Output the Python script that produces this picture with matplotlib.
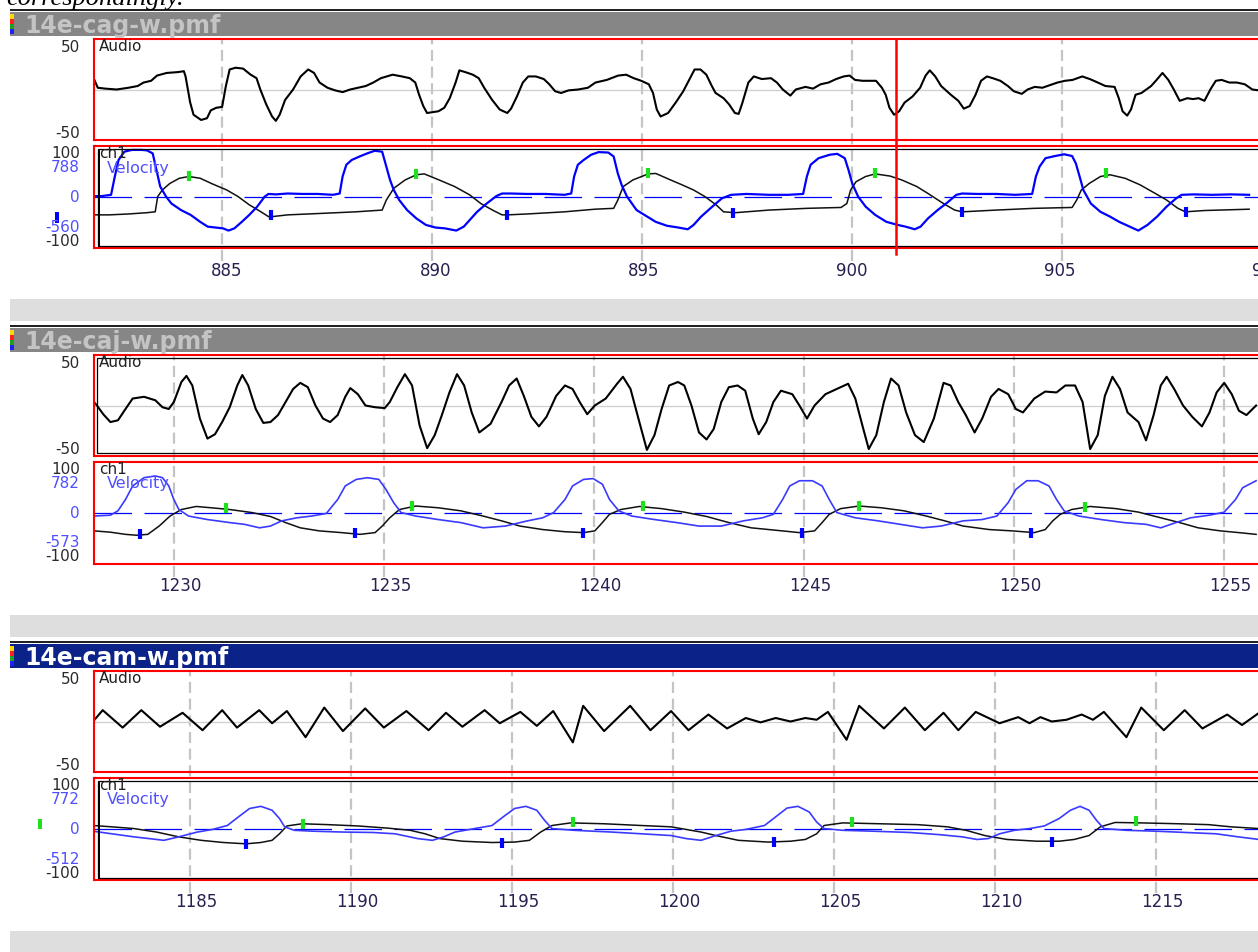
import matplotlib
matplotlib.use("Agg")
import matplotlib.pyplot as plt
from matplotlib.patches import Rectangle
from matplotlib.lines import Line2D
from matplotlib import transforms

# ---------------------------------------------------------------------------
# DATA
# ---------------------------------------------------------------------------
titles = ["14e-cag-w.pmf", "14e-caj-w.pmf", "14e-cam-w.pmf"]

# --- panel 1 : 14e-cag-w ---------------------------------------------------
p1_ticks = [885, 890, 895, 900, 905, 910]
p1_audio_t = [881.95, 882.04, 882.22, 882.49, 882.77, 882.99, 883.13, 883.31, 883.45, 883.68,
              883.95, 884.09, 884.13, 884.24, 884.32, 884.50, 884.64, 884.73, 884.86, 885.00,
              885.09, 885.18, 885.32, 885.50, 885.68, 885.82, 885.91, 886.05, 886.19, 886.28,
              886.37, 886.50, 886.69, 886.87, 887.05, 887.19, 887.32, 887.51, 887.69, 887.87,
              888.05, 888.24, 888.42, 888.60, 888.78, 889.06, 889.28, 889.47, 889.60, 889.69,
              889.79, 889.88, 890.01, 890.15, 890.29, 890.42, 890.56, 890.65, 890.79, 890.97,
              891.11, 891.24, 891.43, 891.61, 891.79, 891.88, 892.02, 892.16, 892.29, 892.47,
              892.66, 892.79, 892.93, 893.07, 893.25, 893.48, 893.71, 893.89, 894.16, 894.43,
              894.62, 894.80, 894.98, 895.16, 895.26, 895.35,
              895.44, 895.62, 895.80, 895.98, 896.12, 896.25, 896.39, 896.53, 896.66, 896.75,
              896.94, 897.07, 897.21, 897.30, 897.39, 897.53, 897.66, 897.85, 898.07, 898.21,
              898.35, 898.53, 898.66, 898.89, 899.07, 899.25, 899.44, 899.62, 899.80, 899.94,
              900.07, 900.25, 900.57, 900.71, 900.80, 900.89, 901.00, 901.12, 901.25, 901.44,
              901.62, 901.75, 901.85, 901.98, 902.12, 902.35, 902.53, 902.66, 902.80, 902.94,
              903.07, 903.21, 903.35, 903.53, 903.71, 903.85, 904.04, 904.18, 904.35, 904.53,
              904.71, 904.89, 905.07, 905.25, 905.48, 905.66, 905.85, 906.03, 906.25, 906.35,
              906.44, 906.55, 906.64, 906.75, 906.89, 907.12, 907.25, 907.39, 907.53, 907.66,
              907.80, 907.98, 908.12, 908.25, 908.39, 908.53, 908.66, 908.80, 908.98, 909.16,
              909.35, 909.53, 909.69]
p1_audio_v = [12, 2, 1, 0, 2, 4, 8, 10, 16, 19,
              20, 21, 15, -15, -29, -35, -33, -24, -21, -20,
              4, 23, 25, 24, 17, 13, 0, -17, -31, -36,
              -29, -12, 0, 15, 23, 19, 8, 2, -1, -3,
              0, 2, 4, 8, 13, 17, 15, 13, 8, -6,
              -19, -27, -26, -25, -21, -10, 8, 22, 20, 17,
              13, 2, -12, -23, -27, -22, -8, 8, 15, 15,
              12, 6, -2, -4, -1, 0, 2, 8, 11, 16,
              17, 13, 10, 6, -4, -23,
              -31, -27, -15, -2, 11, 23, 23, 17, 4, -4,
              -10, -17, -27, -28, -15, 8, 15, 12, 13, 8,
              0, -7, 0, 3, 1, 6, 8, 12, 15, 16,
              11, 10, 10, 2, -6, -21, -29, -25, -15, -8,
              2, 16, 22, 15, 4, -6, -13, -22, -19, -6,
              10, 15, 13, 10, 4, -2, -5, 0, 3, 2,
              5, 8, 10, 11, 15, 12, 8, 4, 3, -10,
              -25, -30, -23, -6, -4, 4, 11, 19, 11, 0,
              -13, -10, -11, -10, -13, 0, 10, 11, 8, 8,
              6, 0, -1]
p1_vel_t = [881.95, 882.13, 882.36, 882.45, 882.54, 882.68, 882.86, 883.09, 883.22, 883.36,
            883.45, 883.54, 883.68, 883.81, 884.04, 884.27, 884.50, 884.68, 884.86, 885.05,
            885.18, 885.32, 885.50, 885.68, 885.87, 886.05, 886.14, 886.32, 886.60, 886.96,
            887.32, 887.69, 887.85, 887.92, 888.01, 888.14, 888.33, 888.51, 888.69, 888.87,
            888.97, 889.06, 889.15, 889.28, 889.47, 889.69, 889.92, 890.15, 890.38, 890.65,
            890.83, 890.97, 891.15, 891.38, 891.61, 891.75, 891.97, 892.34, 892.79, 893.25,
            893.41, 893.48, 893.57, 893.71, 893.89, 894.07, 894.30, 894.43, 894.53, 894.62,
            894.75, 894.98,
            895.44, 895.71, 895.98, 896.21, 896.35, 896.53, 896.80, 897.03, 897.25, 897.62,
            898.16, 898.62, 898.98, 899.07, 899.16, 899.35, 899.62, 899.80, 899.98, 900.07,
            900.16, 900.30, 900.48, 900.71, 900.98, 901.25, 901.44, 901.66, 901.80, 901.98,
            902.21, 902.44, 902.66, 902.80, 903.16, 903.62, 904.07, 904.48, 904.57, 904.66,
            904.80, 905.03, 905.25, 905.44, 905.53, 905.62, 905.71, 905.89, 906.12, 906.35,
            906.57, 906.80, 907.03, 907.25, 907.48, 907.71, 907.94, 908.07, 908.35, 908.80,
            909.25, 909.69]
p1_vel_v = [2, 2, 5, 47, 85, 104, 108, 108, 107, 100,
            62, 24, 1, -15, -30, -41, -57, -68, -70, -72,
            -77, -72, -57, -41, -22, 1, 7, 6, 8, 7,
            7, 5, 8, 47, 74, 85, 93, 100, 106, 104,
            70, 39, 16, -7, -30, -49, -64, -70, -72, -77,
            -68, -53, -34, -15, 2, 8, 8, 7, 7, 5,
            8, 47, 74, 85, 97, 103, 102, 93, 54, 28,
            1, -30,
            -57, -66, -70, -74, -64, -45, -22, -3, 5, 7,
            5, 5, 7, 47, 74, 89, 97, 99, 89, 62,
            31, 1, -22, -41, -57, -64, -68, -74, -68, -49,
            -30, -13, 5, 8, 7, 7, 5, 7, 47, 70,
            89, 94, 98, 94, 77, 47, 16, -15, -34, -45,
            -57, -67, -77, -64, -45, -22, -3, 5, 6, 5,
            6, 5]
p1_pos_t = [881.95, 882.31, 882.77, 883.22, 883.42, 883.48, 883.59, 883.77, 884.00, 884.23,
            884.50, 884.77, 885.14, 885.41, 885.68, 885.96, 886.14, 886.23, 886.60, 887.32,
            888.24, 888.87, 888.97, 889.15, 889.42, 889.69, 889.88, 890.24, 890.61, 890.97,
            891.24, 891.52, 891.75, 891.88, 892.34, 893.25, 893.98, 894.43, 894.53, 894.66,
            894.89, 895.26,
            895.44, 895.80, 896.07, 896.35, 896.62, 896.89, 897.07, 897.35, 898.16, 899.07,
            899.89, 900.03, 900.12, 900.25, 900.48, 900.71, 901.07, 901.35, 901.71, 901.98,
            902.35, 902.62, 902.80, 903.62, 904.53, 905.44, 905.55, 905.66, 905.85, 906.12,
            906.35, 906.71, 907.07, 907.44, 907.71, 907.98, 908.16, 908.62, 909.69]
p1_pos_v = [-41, -41, -39, -36, -34, 1, 16, 31, 43, 47,
            43, 31, 16, 1, -18, -34, -45, -45, -41, -38,
            -34, -30, -7, 20, 39, 51, 53, 39, 24, 5,
            -15, -30, -41, -41, -39, -34, -28, -26, -7, 24,
            39, 53,
            54, 39, 28, 16, 1, -18, -34, -36, -30, -26,
            -24, -15, 16, 35, 47, 53, 48, 39, 24, 8,
            -15, -30, -34, -30, -26, -24, -7, 16, 31, 47,
            51, 43, 28, 8, -7, -26, -34, -31, -28]
p1_peak_t = [884.23, 889.69, 895.26, 900.71, 906.25]
p1_peak_v = [48, 53, 54, 56, 54]
p1_trough_t = [886.19, 891.86, 897.30, 902.80, 908.18]
p1_trough_v = [-41, -41, -36, -34, -34]
p1_cursor = 901.04
p1_scale = ["100", "788", "0", "-560", "-100"]

# --- panel 2 : 14e-caj-w ---------------------------------------------------
p2_ticks = [1230, 1235, 1240, 1245, 1250, 1255]
p2_audio_t = [1228.10, 1228.17, 1228.32, 1228.49, 1228.67, 1228.85, 1229.02, 1229.29, 1229.56, 1229.73,
              1229.88, 1230.00, 1230.18, 1230.30, 1230.44, 1230.62, 1230.80, 1230.98, 1231.15, 1231.33,
              1231.51, 1231.63, 1231.77, 1231.95, 1232.13, 1232.30, 1232.48, 1232.66, 1232.84, 1233.01,
              1233.19, 1233.37, 1233.55, 1233.72, 1233.90, 1234.08, 1234.20, 1234.38, 1234.56, 1234.79,
              1235.02, 1235.14, 1235.32, 1235.50, 1235.67, 1235.85, 1236.03, 1236.21, 1236.38, 1236.56,
              1236.74, 1236.91, 1237.09, 1237.27, 1237.54, 1237.80, 1237.98, 1238.16, 1238.33, 1238.51,
              1238.69, 1238.87, 1239.10, 1239.31, 1239.49, 1239.66, 1239.84, 1240.02, 1240.28, 1240.55,
              1240.69, 1240.87, 1241.08, 1241.26, 1241.44, 1241.61, 1241.79, 1242.00, 1242.15, 1242.32,
              1242.50, 1242.68, 1242.85, 1243.03, 1243.21, 1243.42, 1243.60, 1243.78, 1243.92, 1244.10,
              1244.27, 1244.45, 1244.72, 1244.89, 1245.07, 1245.25, 1245.51, 1245.78, 1246.05, 1246.22,
              1246.40, 1246.54, 1246.72, 1246.90, 1247.07, 1247.25, 1247.43, 1247.64, 1247.85, 1248.09,
              1248.32, 1248.49, 1248.67, 1248.85, 1249.06, 1249.24, 1249.45, 1249.63, 1249.86, 1250.04,
              1250.21, 1250.48, 1250.74, 1251.01, 1251.22, 1251.45, 1251.63, 1251.81, 1251.99, 1252.16,
              1252.34, 1252.52, 1252.70, 1252.96, 1253.14, 1253.32, 1253.49, 1253.63, 1253.81, 1254.02,
              1254.24, 1254.47, 1254.65, 1254.82, 1255.00, 1255.18, 1255.35, 1255.53, 1255.76]
p2_audio_v = [4, 0, -10, -19, -17, -4, 8, 10, 6, -2,
              -4, 4, 27, 34, 23, -15, -38, -33, -19, -2,
              23, 35, 23, -4, -20, -19, -11, 4, 19, 26,
              21, 0, -15, -19, -11, 10, 20, 13, 0, -2,
              -3, 4, 21, 36, 23, -23, -49, -34, -11, 15,
              36, 23, -8, -31, -21, 4, 23, 31, 11, -13,
              -24, -13, 11, 23, 19, 4, -10, 0, 8, 25,
              33, 19, -19, -51, -34, -4, 23, 27, 23, 0,
              -31, -39, -27, 4, 21, 23, 17, -15, -33, -19,
              4, 17, 13, 0, -15, 0, 13, 19, 25, 8,
              -25, -50, -34, 4, 31, 23, -8, -34, -42, -15,
              26, 23, 4, -11, -31, -15, 10, 19, 13, -4,
              -8, 8, 16, 15, 23, 23, 4, -50, -34, 11,
              33, 19, -8, -19, -40, -11, 23, 33, 19, 0,
              -13, -24, -8, 15, 26, 13, -6, -11, 0]
p2_vel_t = [1228.10, 1228.49, 1228.67, 1228.85, 1229.02, 1229.29, 1229.56, 1229.73, 1229.88, 1230.00,
            1230.12, 1230.35, 1230.80, 1231.33, 1231.68, 1232.04, 1232.30, 1232.57, 1232.93, 1233.28,
            1233.63, 1233.90, 1234.08, 1234.34, 1234.61, 1234.88, 1235.05, 1235.23, 1235.41, 1235.76,
            1236.29, 1236.83, 1237.36, 1237.89, 1238.42, 1238.78, 1239.04, 1239.31, 1239.49, 1239.75,
            1239.98, 1240.20, 1240.37, 1240.59, 1240.90, 1241.44, 1241.97, 1242.50, 1243.03, 1243.56,
            1244.01, 1244.27, 1244.49, 1244.66, 1244.89, 1245.20, 1245.43, 1245.60, 1245.78, 1246.22,
            1246.76, 1247.29, 1247.82, 1248.26, 1248.79, 1249.24, 1249.59, 1249.86, 1250.04, 1250.30,
            1250.57, 1250.83, 1251.01, 1251.19, 1251.54, 1252.07, 1252.61, 1253.14, 1253.49, 1253.85,
            1254.20, 1254.65, 1255.00, 1255.27, 1255.44, 1255.76]
p2_vel_v = [-7, -5, 5, 31, 62, 81, 85, 81, 62, 31,
            8, -7, -15, -22, -26, -34, -30, -18, -11, -7,
            -1, 31, 62, 77, 81, 77, 54, 24, 1, -7,
            -15, -22, -34, -30, -18, -11, 1, 31, 62, 77,
            79, 66, 31, 5, -7, -15, -22, -30, -30, -18,
            -11, -3, 31, 62, 74, 74, 62, 31, 1, -11,
            -18, -26, -34, -30, -18, -15, -7, 24, 54, 74,
            74, 62, 31, 5, -7, -15, -22, -26, -34, -22,
            -11, -5, 2, 31, 58, 74]
p2_pos_t = [1228.10, 1228.49, 1228.85, 1229.11, 1229.38, 1229.65, 1229.91, 1230.18, 1230.53, 1230.89,
            1231.33, 1231.86, 1232.30, 1232.66, 1233.01, 1233.46, 1233.99, 1234.43, 1234.79, 1234.96,
            1235.14, 1235.37, 1235.76, 1236.29, 1236.83, 1237.36, 1237.80, 1238.24, 1238.78, 1239.31,
            1239.75, 1240.02, 1240.20, 1240.37, 1240.64, 1241.08, 1241.61, 1242.15, 1242.68, 1243.21,
            1243.74, 1244.27, 1244.89, 1245.25, 1245.43, 1245.60, 1245.87, 1246.31, 1246.84, 1247.38,
            1247.91, 1248.35, 1248.79, 1249.41, 1249.95, 1250.48, 1250.74, 1250.92, 1251.10, 1251.37,
            1251.81, 1252.43, 1252.96, 1253.49, 1253.94, 1254.38, 1254.91, 1255.35, 1255.76]
p2_pos_v = [-41, -44, -49, -51, -49, -30, -7, 8, 15, 12,
            8, 1, -8, -22, -34, -41, -45, -49, -45, -30,
            -11, 8, 16, 12, 5, -7, -18, -30, -38, -43,
            -45, -41, -22, -3, 8, 15, 10, 2, -8, -22,
            -34, -39, -45, -41, -22, -3, 10, 16, 12, 5,
            -7, -18, -30, -38, -41, -45, -38, -18, -3, 8,
            15, 10, 2, -11, -22, -34, -41, -45, -49]
p2_peak_t = [1231.24, 1235.67, 1241.17, 1246.31, 1251.68]
p2_peak_v = [12, 16, 15, 16, 14]
p2_trough_t = [1229.20, 1234.31, 1239.75, 1244.95, 1250.39]
p2_trough_v = [-49, -47, -47, -47, -47]
p2_scale = ["100", "782", "0", "-573", "-100"]

# --- panel 3 : 14e-cam-w ---------------------------------------------------
p3_ticks = [1185, 1190, 1195, 1200, 1205, 1210, 1215]
p3_audio_t = [1181.99, 1182.29, 1182.91, 1183.49, 1184.07, 1184.77, 1185.39, 1186.00, 1186.46, 1187.15,
              1187.55, 1188.01, 1188.59, 1189.17, 1189.75, 1190.44, 1191.02, 1191.72, 1192.41, 1192.95,
              1193.46, 1194.15, 1194.62, 1195.26, 1195.77, 1196.28, 1196.89, 1197.21, 1197.86, 1198.67,
              1199.30, 1199.94, 1200.48, 1201.10, 1201.68, 1202.26, 1202.72, 1203.19, 1203.65, 1204.11,
              1204.46, 1204.81, 1205.39, 1205.78, 1206.55, 1207.20, 1207.82, 1208.40, 1208.86, 1209.40,
              1210.14, 1210.72, 1211.07, 1211.41, 1211.76, 1212.22, 1212.69, 1213.04, 1213.38, 1214.08,
              1214.54, 1215.24, 1215.89, 1216.44, 1217.21, 1217.67, 1218.20]
p3_audio_v = [0, 13, -7, 13, -6, 10, -10, 13, -7, 13,
              -2, 12, -18, 16, -11, 15, -7, 12, -10, 10,
              -6, 13, -2, 11, -5, 12, -24, 18, -11, 18,
              -10, 12, -10, 8, -8, 4, -1, 4, 0, 4,
              2, 11, -21, 18, -8, 16, -10, 10, -10, 11,
              -2, 5, -2, 5, 0, 2, 8, 2, 11, -18,
              16, -10, 13, -8, 8, -4, 10]
p3_vel_t = [1181.99, 1182.57, 1183.26, 1183.96, 1184.19, 1184.65, 1185.23, 1185.70, 1186.16, 1186.51,
            1186.85, 1187.20, 1187.55, 1187.78, 1187.94, 1188.24, 1188.82, 1189.75, 1190.68, 1191.37,
            1192.07, 1192.53, 1192.88, 1193.23, 1193.69, 1194.38, 1194.73, 1195.08, 1195.43, 1195.77,
            1196.01, 1196.24, 1196.93, 1198.09, 1199.02, 1199.94, 1200.41, 1200.87, 1201.33, 1201.80,
            1202.26, 1202.84, 1203.19, 1203.54, 1203.88, 1204.23, 1204.46, 1204.69, 1205.27, 1206.20,
            1207.36, 1208.28, 1208.98, 1209.44, 1209.79, 1210.14, 1210.60, 1211.07, 1211.53, 1211.99,
            1212.34, 1212.64, 1212.92, 1213.15, 1213.38, 1214.08, 1215.00, 1215.93, 1216.86, 1217.55,
            1218.20]
p3_vel_v = [-5, -11, -18, -24, -26, -18, -7, -1, 8, 28,
            47, 52, 43, 24, 5, -3, -5, -7, -8, -11,
            -22, -26, -18, -7, -1, 8, 28, 47, 52, 43,
            20, 1, -3, -7, -11, -15, -22, -26, -15, -5,
            -1, 8, 28, 48, 52, 39, 16, 1, -3, -5,
            -8, -13, -18, -24, -22, -11, -3, 1, 7, 24,
            43, 52, 43, 20, 1, -3, -5, -8, -11, -18,
            -24]
p3_pos_t = [1181.99, 1182.57, 1183.26, 1183.96, 1184.65, 1185.35, 1186.04, 1186.74, 1187.20, 1187.55,
            1187.78, 1188.01, 1188.48, 1189.29, 1190.21, 1191.14, 1191.84, 1192.30, 1192.76, 1193.46,
            1194.38, 1195.08, 1195.54, 1195.89, 1196.24, 1196.82, 1197.86, 1199.02, 1199.94, 1200.87,
            1201.33, 1202.03, 1202.96, 1203.65, 1204.11, 1204.46, 1204.69, 1205.27, 1206.43, 1207.59,
            1208.52, 1209.10, 1209.68, 1210.37, 1211.30, 1211.99, 1212.46, 1212.92, 1213.27, 1213.73,
            1214.54, 1215.70, 1216.63, 1217.32, 1218.20]
p3_pos_v = [8, 5, 1, -7, -18, -26, -31, -34, -31, -26,
            -11, 7, 12, 10, 7, 2, -3, -11, -22, -28,
            -31, -30, -26, -7, 8, 14, 12, 8, 5, -7,
            -15, -26, -30, -28, -24, -11, 8, 14, 12, 10,
            5, -3, -15, -24, -28, -28, -24, -15, 5, 15,
            14, 12, 10, 5, 1]
p3_peak_t = [1188.52, 1196.89, 1205.57, 1214.38]
p3_peak_v = [12, 15, 15, 18]
p3_trough_t = [1186.74, 1194.68, 1203.14, 1211.76]
p3_trough_v = [-34, -31, -30, -30]
p3_scale = ["100", "772", "0", "-512", "-100"]

# ---------------------------------------------------------------------------
# LAYOUT HELPERS (pixel coordinates, origin top-left)
# ---------------------------------------------------------------------------
W, H = 1258, 953
plt.rcParams["lines.scale_dashes"] = False
plt.rcParams["font.family"] = ["DejaVu Sans"]

fig = plt.figure(figsize=(W / 100, H / 100), dpi=100)
fig.patch.set_facecolor("white")

RED = "#ff0000"
BLUE = "#0000ff"
LBLUE = "#5050ff"
GREEN = "#1ee01e"
GRID = "#c4c4c4"


def px_rect(x0, y0, x1, y1):
    return [x0 / W, 1 - y1 / H, (x1 - x0) / W, (y1 - y0) / H]


def box(x0, y0, x1, y1, face, edge="none", lw=0):
    fig.patches.append(Rectangle((x0 / W, 1 - y1 / H), (x1 - x0) / W, (y1 - y0) / H,
                                 transform=fig.transFigure, facecolor=face,
                                 edgecolor=edge, linewidth=lw))


def ftext(x, y, s, **kw):
    fig.text(x / W, 1 - y / H, s, **kw)


def bare(ax, xlim, ylim, spine_color=RED):
    ax.set_facecolor("none")
    ax.set_xlim(*xlim)
    ax.set_ylim(*ylim)
    ax.set_xticks([])
    ax.set_yticks([])
    for s in ax.spines.values():
        s.set_color(spine_color)
        s.set_linewidth(1.5)


def draw_panel(o, title, bar, fg, xlim, ticks, audio, vel, pos, peaks, troughs,
               scale, inner, vel_lw, vel_color, cursor=None):
    # window chrome
    box(10, o + 10, W, o + 12, "#222222")
    box(10, o + 13, W, o + 37, bar)
    for i, c in enumerate(["#ffd800", "#ff2020", "#20a020", "#2020ff"]):
        box(10, o + 15 + i * 5, 14, o + 20 + i * 5, c)
    ftext(24, o + 25.5, title, fontsize=17, fontweight="bold", color=fg,
          va="center", ha="left")
    box(10, o + 300, W, o + 322, "#dedede")

    # background with the dashed time grid
    ax_bg = fig.add_axes(px_rect(94, o + 40, W + 4, o + 262))
    ax_bg.set_xlim(*xlim)
    ax_bg.set_ylim(0, 1)
    ax_bg.axis("off")
    for t in ticks:
        ax_bg.axvline(t, color=GRID, lw=1.6, linestyle=(0, (8, 4)))

    # audio strip
    ax_a = fig.add_axes(px_rect(94, o + 40, W + 4, o + 141))
    bare(ax_a, xlim, (-58, 58))
    ax_a.axhline(0, color="#cfcfcf", lw=0.9)
    ax_a.plot(audio[0], audio[1], color="black", lw=1.5)

    # velocity / position strip
    ax_v = fig.add_axes(px_rect(94, o + 147, W + 4, o + 249))
    bare(ax_v, xlim, (-117, 117))
    ax_v.axhline(0, color=BLUE, lw=0.9, linestyle=(0, (27, 9)))
    ax_v.plot(pos[0], pos[1], color="#111111", lw=1.1)
    ax_v.plot(vel[0], vel[1], color=vel_color, lw=vel_lw)
    ax_v.plot(peaks[0], peaks[1], linestyle="none", marker="|", ms=7, mew=3, color=GREEN)
    ax_v.plot(troughs[0], troughs[1], linestyle="none", marker="|", ms=7, mew=3, color=BLUE)
    ax_v.set_xticks(ticks)
    ax_v.set_xticklabels([str(t) for t in ticks])
    ax_v.tick_params(axis="x", length=0, pad=9, labelsize=12, labelcolor="#2a2050")
    shift = transforms.ScaledTranslation(6 / 100, 0, fig.dpi_scale_trans)
    for lab in ax_v.get_xticklabels():
        lab.set_transform(lab.get_transform() + shift)

    # inner black frames
    if "audio" in inner:
        box(97, o + 43, W + 4, o + 138, "none", edge="black", lw=0.9)
    if "vel" in inner:
        box(98, o + 150, W + 4, o + 247, "none", edge="black", lw=0.9)
        box(98, o + 150, 100, o + 247, "black")

    # labels inside strips
    ftext(99, o + 46.5, "Audio", fontsize=11, color="#222222", va="center")
    ftext(99, o + 154, "ch1", fontsize=11, color="#222222", va="center")
    ftext(107, o + 168, "Velocity", fontsize=11.5, color=LBLUE, va="center")

    # scale labels in the left column
    ftext(80, o + 47, "50", fontsize=11, color="#2a2a2a", ha="right", va="center")
    ftext(80, o + 134, "-50", fontsize=11, color="#2a2a2a", ha="right", va="center")
    ys = [154, 168, 198, 227, 241]
    cols = ["#2a2a2a", LBLUE, LBLUE, LBLUE, "#2a2a2a"]
    for s, y, c in zip(scale, ys, cols):
        ftext(80, o + y, s, fontsize=11, color=c, ha="right", va="center")

    if cursor is not None:
        tr = transforms.blended_transform_factory(ax_a.transData, fig.transFigure)
        fig.add_artist(Line2D([cursor, cursor], [1 - (o + 40) / H, 1 - (o + 255) / H],
                              transform=tr, color=RED, lw=1.8, zorder=5))
    return ax_a, ax_v


# ---------------------------------------------------------------------------
# DRAW
# ---------------------------------------------------------------------------
fig.text(6 / W, 1 - 5 / H, "correspondingly.", fontsize=19, style="italic",
         family=["Liberation Serif", "DejaVu Serif"], va="baseline")

draw_panel(0, titles[0], "#868686", "#c4c4c4", (881.95, 909.76), p1_ticks,
           (p1_audio_t, p1_audio_v), (p1_vel_t, p1_vel_v), (p1_pos_t, p1_pos_v),
           (p1_peak_t, p1_peak_v), (p1_trough_t, p1_trough_v),
           p1_scale, ["vel"], 1.6, BLUE, cursor=p1_cursor)
box(55, 213, 59, 224, BLUE)

draw_panel(316, titles[1], "#868686", "#c4c4c4", (1228.10, 1255.90), p2_ticks,
           (p2_audio_t, p2_audio_v), (p2_vel_t, p2_vel_v), (p2_pos_t, p2_pos_v),
           (p2_peak_t, p2_peak_v), (p2_trough_t, p2_trough_v),
           p2_scale, ["audio"], 1.2, "#3a3aff")

draw_panel(632, titles[2], "#0b2288", "white", (1182.02, 1218.29), p3_ticks,
           (p3_audio_t, p3_audio_v), (p3_vel_t, p3_vel_v), (p3_pos_t, p3_pos_v),
           (p3_peak_t, p3_peak_v), (p3_trough_t, p3_trough_v),
           p3_scale, ["vel"], 1.2, "#3a3aff")
box(38, 632 + 188, 42, 632 + 198, GREEN)

fig.savefig("out.png", dpi=100)
